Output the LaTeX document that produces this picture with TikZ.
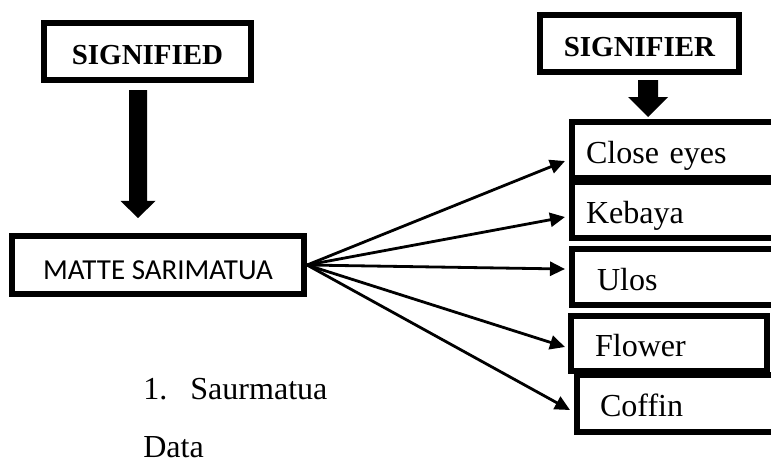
\documentclass[tikz,border=0pt]{standalone}
\usepackage{fontspec}
\setmainfont{Liberation Serif}
\newfontfamily\calibri{Carlito}
\usetikzlibrary{calc,positioning,arrows.meta}

% thick block arrow going straight down: from, to, half shaft, half head, head length
\newcommand{\blockarrow}[5]{%
	\fill ($(#1)+(-#3,0)$) -- ($(#2)+(-#3,-#5)$) -- ($(#2)+(-#4,-#5)$) -- (#2)
	-- ($(#2)+(#4,-#5)$) -- ($(#2)+(#3,-#5)$) -- ($(#1)+(#3,0)$) -- cycle;}

\tikzset{
	headbox/.style={draw, line width=0.15cm, inner sep=0pt, minimum height=1.425cm,
		text height=0.625cm, text depth=0pt, font=\fontsize{20.6}{24}\selectfont\bfseries},
	itembox/.style={draw, line width=0.15cm, anchor=north west, align=left,
		minimum height=1.4cm, inner ysep=0pt, text height=0.65cm, text depth=0pt,
		font=\fontsize{22.8}{27}\selectfont},
	fan/.style={line width=0.07cm, -{Triangle[length=0.375cm,width=0.35cm]}},
	plain/.style={anchor=base west, inner sep=0pt, font=\fontsize{22.8}{27}\selectfont},
}

\begin{document}
\begin{tikzpicture}[x=0.025cm, y=-0.025cm]
\useasboundingbox (0,0) rectangle (771,462);

% headings
\node[headbox, minimum width=5.175cm] (signified) at (147.5,51.5) {SIGNIFIED};
\node[headbox, minimum width=4.975cm] (signifier) at (639.5,43.5) {SIGNIFIER};

% the sign
\node[draw, line width=0.15cm, inner sep=0pt, minimum width=7.3cm, minimum height=1.45cm,
	text height=0.7cm, text depth=0pt, font=\calibri\fontsize{20.6}{24}\selectfont]
	(matte) at (158,265) {MATTE SARIMATUA};

% signifiers
\node[itembox, inner xsep=0.35cm, text width=5cm] (close) at (569,119) {Close eyes};
\node[itembox, inner xsep=0.35cm, text width=5cm] (kebaya) at (569,179) {Kebaya};
\node[itembox, inner xsep=0.625cm, text width=4.45cm] (ulos) at (569,246) {Ulos};
\node[itembox, inner xsep=0.575cm, text width=4.425cm, minimum height=1.425cm] (coffin) at (574,372) {Coffin};
\node[itembox, inner xsep=0.6cm, text width=3.7cm, minimum height=1.375cm] (flower) at (568,313) {Flower};

% block arrows
\coordinate (sdfrom) at ($(signified.south)+(-9.5,7)$);
\coordinate (sdto) at ($(matte.north)+(-20,-15)$);
\blockarrow{sdfrom}{sdto}{9}{17.5}{17}

\coordinate (srfrom) at ($(signifier.south)+(8.5,5)$);
\coordinate (srto) at ($(close.north west)+(79,-2)$);
\blockarrow{srfrom}{srto}{10}{20}{20}

% fan of arrows
\draw[fan] (matte.east) -- ([shift={(-4,11)}]close.west);
\draw[fan] (matte.east) -- ([shift={(-4,7)}]kebaya.west);
\draw[fan] (matte.east) -- ([shift={(-4,-8)}]ulos.west);
\draw[fan] (matte.east) -- ([shift={(-3,3.5)}]flower.west);
\draw[fan] (matte.east) -- ([shift={(-4,6.5)}]coffin.west);

% text below
\node[plain] (item) at (143,399) {1.\hspace{0.575cm}Saurmatua};
\node[plain] (data) at (143,457) {Data};

\end{tikzpicture}
\end{document}
